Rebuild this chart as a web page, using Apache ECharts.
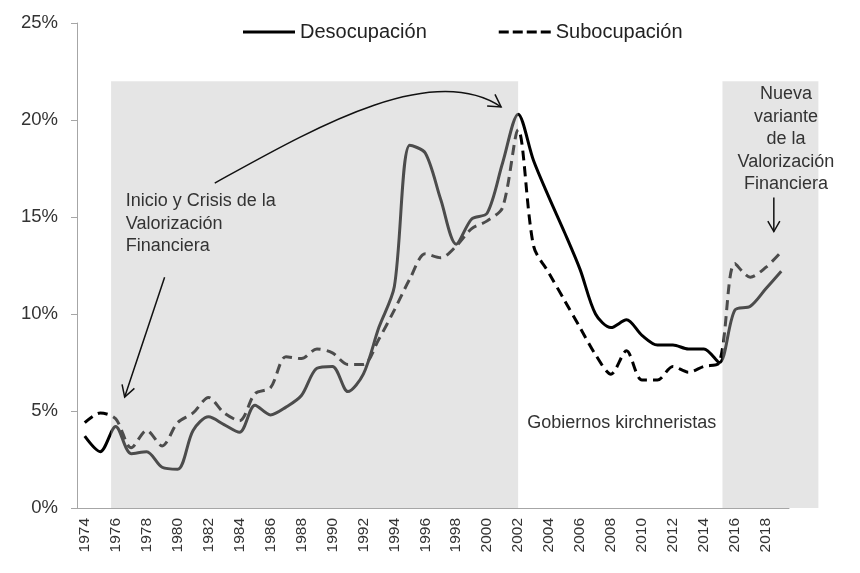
<!DOCTYPE html>
<html lang="es">
<head>
  <meta charset="UTF-8">
  <title>Desocupación y subocupación</title>
  <script src="https://cdn.jsdelivr.net/npm/echarts@6/dist/echarts.min.js"></script>
  <style>
    html, body { margin: 0; padding: 0; background: #fff; }
    #main { width: 860px; height: 573px; }
  </style>
</head>
<body>
  <div id="main"></div>
  <script>
    // años 1974 - 2019
    var years = [];
    for (var y = 1974; y <= 2019; y++) years.push(String(y));

    // tasa de desocupación (%)
    var desocupacion = [
      3.7, 2.9, 4.2, 2.8, 2.9, 2.1, 2.0, 4.0, 4.7, 4.3,
      3.9, 5.3, 4.8, 5.2, 5.8, 7.2, 7.3, 6.0, 6.9, 9.3,
      11.4, 18.7, 18.3, 15.9, 13.6, 14.9, 15.2, 17.8, 20.3, 17.9,
      16.0, 14.2, 12.3, 10.0, 9.3, 9.7, 8.9, 8.4, 8.4, 8.2,
      8.2, 7.5, 10.2, 10.4, 11.3, 12.2
    ];
    // tasa de subocupación (%)
    var subocupacion = [
      4.4, 4.9, 4.6, 3.1, 4.0, 3.2, 4.4, 4.9, 5.7, 4.9,
      4.5, 5.9, 6.2, 7.8, 7.7, 8.2, 8.0, 7.4, 7.4, 8.7,
      10.2, 11.8, 13.1, 12.9, 13.5, 14.4, 14.8, 15.5, 19.5, 13.5,
      12.1, 10.7, 9.3, 7.9, 6.9, 8.1, 6.6, 6.6, 7.3, 7.0,
      7.3, 7.5, 12.6, 11.9, 12.4, 13.2
    ];
    var yTicks = [0, 5, 10, 15, 20, 25];

    var font = 'Arial, "Liberation Sans", sans-serif';
    var myChart = echarts.init(document.getElementById('main'));

    // iconos de la leyenda: linea continua y linea de trazos
    var iconSolid = 'path://M0,0H52V3H0Z';
    var iconDash = 'path://M0,0H10V3H0Z M14,0H24V3H14Z M28,0H38V3H28Z M42,0H52V3H42Z';

    var option = {
      animation: false,
      backgroundColor: '#fff',
      grid: { left: 77, right: 71, top: 23, bottom: 65 },
      legend: {
        left: 238, top: 17,
        itemWidth: 52, itemHeight: 20, itemGap: 72,
        textStyle: { fontFamily: font, fontSize: 20, color: '#222' },
        data: [
          { name: 'Desocupación', icon: iconSolid },
          { name: 'Subocupación', icon: iconDash }
        ]
      },
      xAxis: {
        type: 'category',
        data: years,
        boundaryGap: true,
        axisLine: { lineStyle: { color: '#a6a6a6' } },
        axisTick: { length: 6, lineStyle: { color: '#a6a6a6' } },
        axisLabel: { interval: 1, rotate: 90, margin: 10, fontFamily: font, fontSize: 15.5, color: '#333' }
      },
      yAxis: {
        type: 'value',
        min: yTicks[0], max: yTicks[yTicks.length - 1], interval: 5,
        splitLine: { show: false },
        axisLine: { show: true, lineStyle: { color: '#a6a6a6' } },
        axisTick: { show: true, length: 6, lineStyle: { color: '#a6a6a6' } },
        axisLabel: { formatter: '{value}%', margin: 19, fontFamily: font, fontSize: 18.5, color: '#333' }
      },
      series: [
        {
          name: 'Desocupación', type: 'line', data: desocupacion,
          smooth: 0.3, symbol: 'none',
          lineStyle: { color: '#000', width: 3 },
          itemStyle: { color: '#000' }
        },
        {
          name: 'Subocupación', type: 'line', data: subocupacion,
          smooth: 0.3, symbol: 'none',
          lineStyle: { color: '#000', width: 3, type: [10, 6] },
          itemStyle: { color: '#000' }
        }
      ]
    };
    myChart.setOption(option);

    // posición en pixeles a partir de año (fraccional) y valor
    function px(year, val) {
      var a = myChart.convertToPixel({ xAxisIndex: 0, yAxisIndex: 0 }, [0, val]);
      var b = myChart.convertToPixel({ xAxisIndex: 0, yAxisIndex: 0 }, [1, val]);
      return [a[0] + (year - 1974) * (b[0] - a[0]), a[1]];
    }

    function arrowHead(tip, from, len) {
      var dx = tip[0] - from[0], dy = tip[1] - from[1];
      var d = Math.sqrt(dx * dx + dy * dy);
      var ux = dx / d, uy = dy / d, ang = Math.PI / 6;
      var p1 = [tip[0] - len * (ux * Math.cos(ang) - uy * Math.sin(ang)), tip[1] - len * (uy * Math.cos(ang) + ux * Math.sin(ang))];
      var p2 = [tip[0] - len * (ux * Math.cos(ang) + uy * Math.sin(ang)), tip[1] - len * (uy * Math.cos(ang) - ux * Math.sin(ang))];
      return { type: 'polyline', z: 101, shape: { points: [p1, tip, p2] }, style: { stroke: '#111', lineWidth: 1.5, fill: null } };
    }

    function shade(y0, y1) {
      var a = px(y0, 22), b = px(y1, 0);
      return { type: 'rect', z: 100, silent: true,
        shape: { x: a[0], y: a[1], width: b[0] - a[0], height: b[1] - a[1] },
        style: { fill: 'rgba(190,190,190,0.4)' } };
    }

    function label(text, year, val, align) {
      var p = px(year, val);
      return { type: 'text', z: 102, x: p[0], y: p[1],
        style: { text: text, fill: '#333', fontFamily: font, fontSize: 18, lineHeight: 22.5,
          textAlign: align, textVerticalAlign: 'top' } };
    }

    // flecha recta
    var s0 = px(1979.16, 11.9), s1 = px(1976.58, 5.72);
    // flecha curva
    var c0 = px(1982.4, 16.75), c1 = px(1988.65, 19.5), c2 = px(1996.4, 23.1), c3 = px(2000.9, 20.67);
    // flecha hacia abajo
    var d0 = px(2018.52, 16.0), d1 = px(2018.52, 14.25);

    myChart.setOption({
      graphic: [
        shade(1975.7, 2002),
        shade(2015.2, 2021.4),
        label('Inicio y Crisis de la\nValorización\nFinanciera', 1976.65, 16.4, 'left'),
        label('Gobiernos kirchneristas', 2008.7, 4.95, 'center'),
        label('Nueva\nvariante\nde la\nValorización\nFinanciera', 2019.3, 21.9, 'center'),
        { type: 'line', z: 101, shape: { x1: s0[0], y1: s0[1], x2: s1[0], y2: s1[1] }, style: { stroke: '#111', lineWidth: 1.5 } },
        arrowHead(s1, s0, 13),
        { type: 'bezierCurve', z: 101,
          shape: { x1: c0[0], y1: c0[1], cpx1: c1[0], cpy1: c1[1], cpx2: c2[0], cpy2: c2[1], x2: c3[0], y2: c3[1] },
          style: { stroke: '#111', lineWidth: 1.5, fill: null } },
        arrowHead(c3, c2, 14),
        { type: 'line', z: 101, shape: { x1: d0[0], y1: d0[1], x2: d1[0], y2: d1[1] }, style: { stroke: '#111', lineWidth: 1.5 } },
        arrowHead(d1, d0, 12)
      ]
    });
  </script>
</body>
</html>
